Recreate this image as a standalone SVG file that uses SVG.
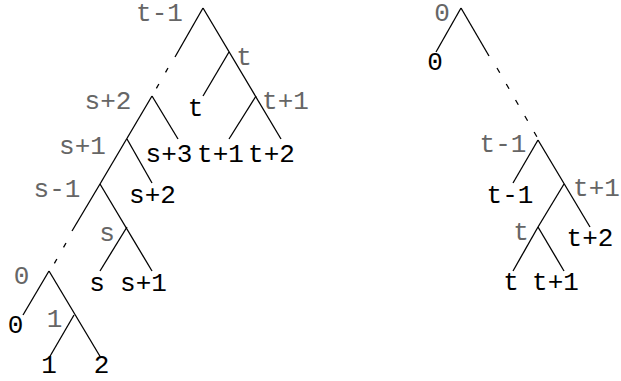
<svg xmlns="http://www.w3.org/2000/svg" width="621" height="381" viewBox="0 0 621 381">
  <style>
    text { font-family: "Liberation Mono", "Courier New", monospace; font-size: 26px; text-anchor: middle; }
    .inner { fill: #666666; }
    .leaf { fill: #000000; }
    .edge { stroke: #000000; stroke-width: 1.3; fill: none; stroke-linecap: butt; }
    .gap { stroke-dasharray: 5 13.4; }
    .gap-long { stroke-dasharray: 5.5 13; }
  </style>

  <!-- edges -->
  <g id="connectors">
    <!-- left tree -->
    <path class="edge" d="M203,8 L281,139"/>
    <path class="edge" d="M203,8 L175,57"/>
    <path class="edge gap" d="M168,68 L152,96"/>
    <path class="edge" d="M229,52 L203,96"/>
    <path class="edge" d="M256,96 L229,139"/>
    <path class="edge" d="M152,96 L178,139"/>
    <path class="edge" d="M152,96 L100,184"/>
    <path class="edge" d="M127,139 L152,183"/>
    <path class="edge" d="M100,184 L152,271"/>
    <path class="edge" d="M127,227 L100,271"/>
    <path class="edge" d="M100,184 L72,231"/>
    <path class="edge gap" d="M66,243 L50,271"/>
    <path class="edge" d="M49,271 L23,315"/>
    <path class="edge" d="M49,271 L101,358"/>
    <path class="edge" d="M74,315 L49,358"/>
    <!-- right tree -->
    <path class="edge" d="M461,8 L436,52"/>
    <path class="edge" d="M461,8 L489,56"/>
    <path class="edge gap-long" d="M497,68 L537,137"/>
    <path class="edge" d="M538,140 L513,183"/>
    <path class="edge" d="M538,140 L590,227"/>
    <path class="edge" d="M564,184 L538,227"/>
    <path class="edge" d="M538,227 L513,271"/>
    <path class="edge" d="M538,227 L564,271"/>
  </g>

  <!-- left tree nodes -->
  <g id="node-l-t-1"><text class="inner" x="159.5" y="21">t-1</text></g>
  <g id="node-l-t"><text class="inner" x="244" y="65">t</text></g>
  <g id="node-l-t+1"><text class="inner" x="285.5" y="109">t+1</text></g>
  <g id="node-l-s+2"><text class="inner" x="108" y="109">s+2</text></g>
  <g id="node-l-s+1"><text class="inner" x="82.5" y="154">s+1</text></g>
  <g id="node-l-s-1"><text class="inner" x="57" y="197">s-1</text></g>
  <g id="node-l-s"><text class="inner" x="107" y="241">s</text></g>
  <g id="node-l-0"><text class="inner" x="21.5" y="284">0</text></g>
  <g id="node-l-1"><text class="inner" x="54.5" y="327">1</text></g>

  <g id="leaf-l-t"><text class="leaf" x="195.5" y="116">t</text></g>
  <g id="leaf-l-s+3"><text class="leaf" x="169" y="162">s+3</text></g>
  <g id="leaf-l-t+1"><text class="leaf" x="220.5" y="162">t+1</text></g>
  <g id="leaf-l-t+2"><text class="leaf" x="271.5" y="162">t+2</text></g>
  <g id="leaf-l-s+2"><text class="leaf" x="152.5" y="203">s+2</text></g>
  <g id="leaf-l-s"><text class="leaf" x="97" y="291">s</text></g>
  <g id="leaf-l-s+1"><text class="leaf" x="143.5" y="291">s+1</text></g>
  <g id="leaf-l-0"><text class="leaf" x="15.5" y="333">0</text></g>
  <g id="leaf-l-1"><text class="leaf" x="49" y="373">1</text></g>
  <g id="leaf-l-2"><text class="leaf" x="101.5" y="373">2</text></g>

  <!-- right tree nodes -->
  <g id="node-r-0"><text class="inner" x="442" y="21">0</text></g>
  <g id="node-r-t-1"><text class="inner" x="503" y="152">t-1</text></g>
  <g id="node-r-t+1"><text class="inner" x="596.5" y="196">t+1</text></g>
  <g id="node-r-t"><text class="inner" x="521" y="240">t</text></g>

  <g id="leaf-r-0"><text class="leaf" x="435" y="70">0</text></g>
  <g id="leaf-r-t-1"><text class="leaf" x="510" y="203">t-1</text></g>
  <g id="leaf-r-t+2"><text class="leaf" x="590" y="246">t+2</text></g>
  <g id="leaf-r-t"><text class="leaf" x="511" y="290">t</text></g>
  <g id="leaf-r-t+1"><text class="leaf" x="555.5" y="290">t+1</text></g>
</svg>
